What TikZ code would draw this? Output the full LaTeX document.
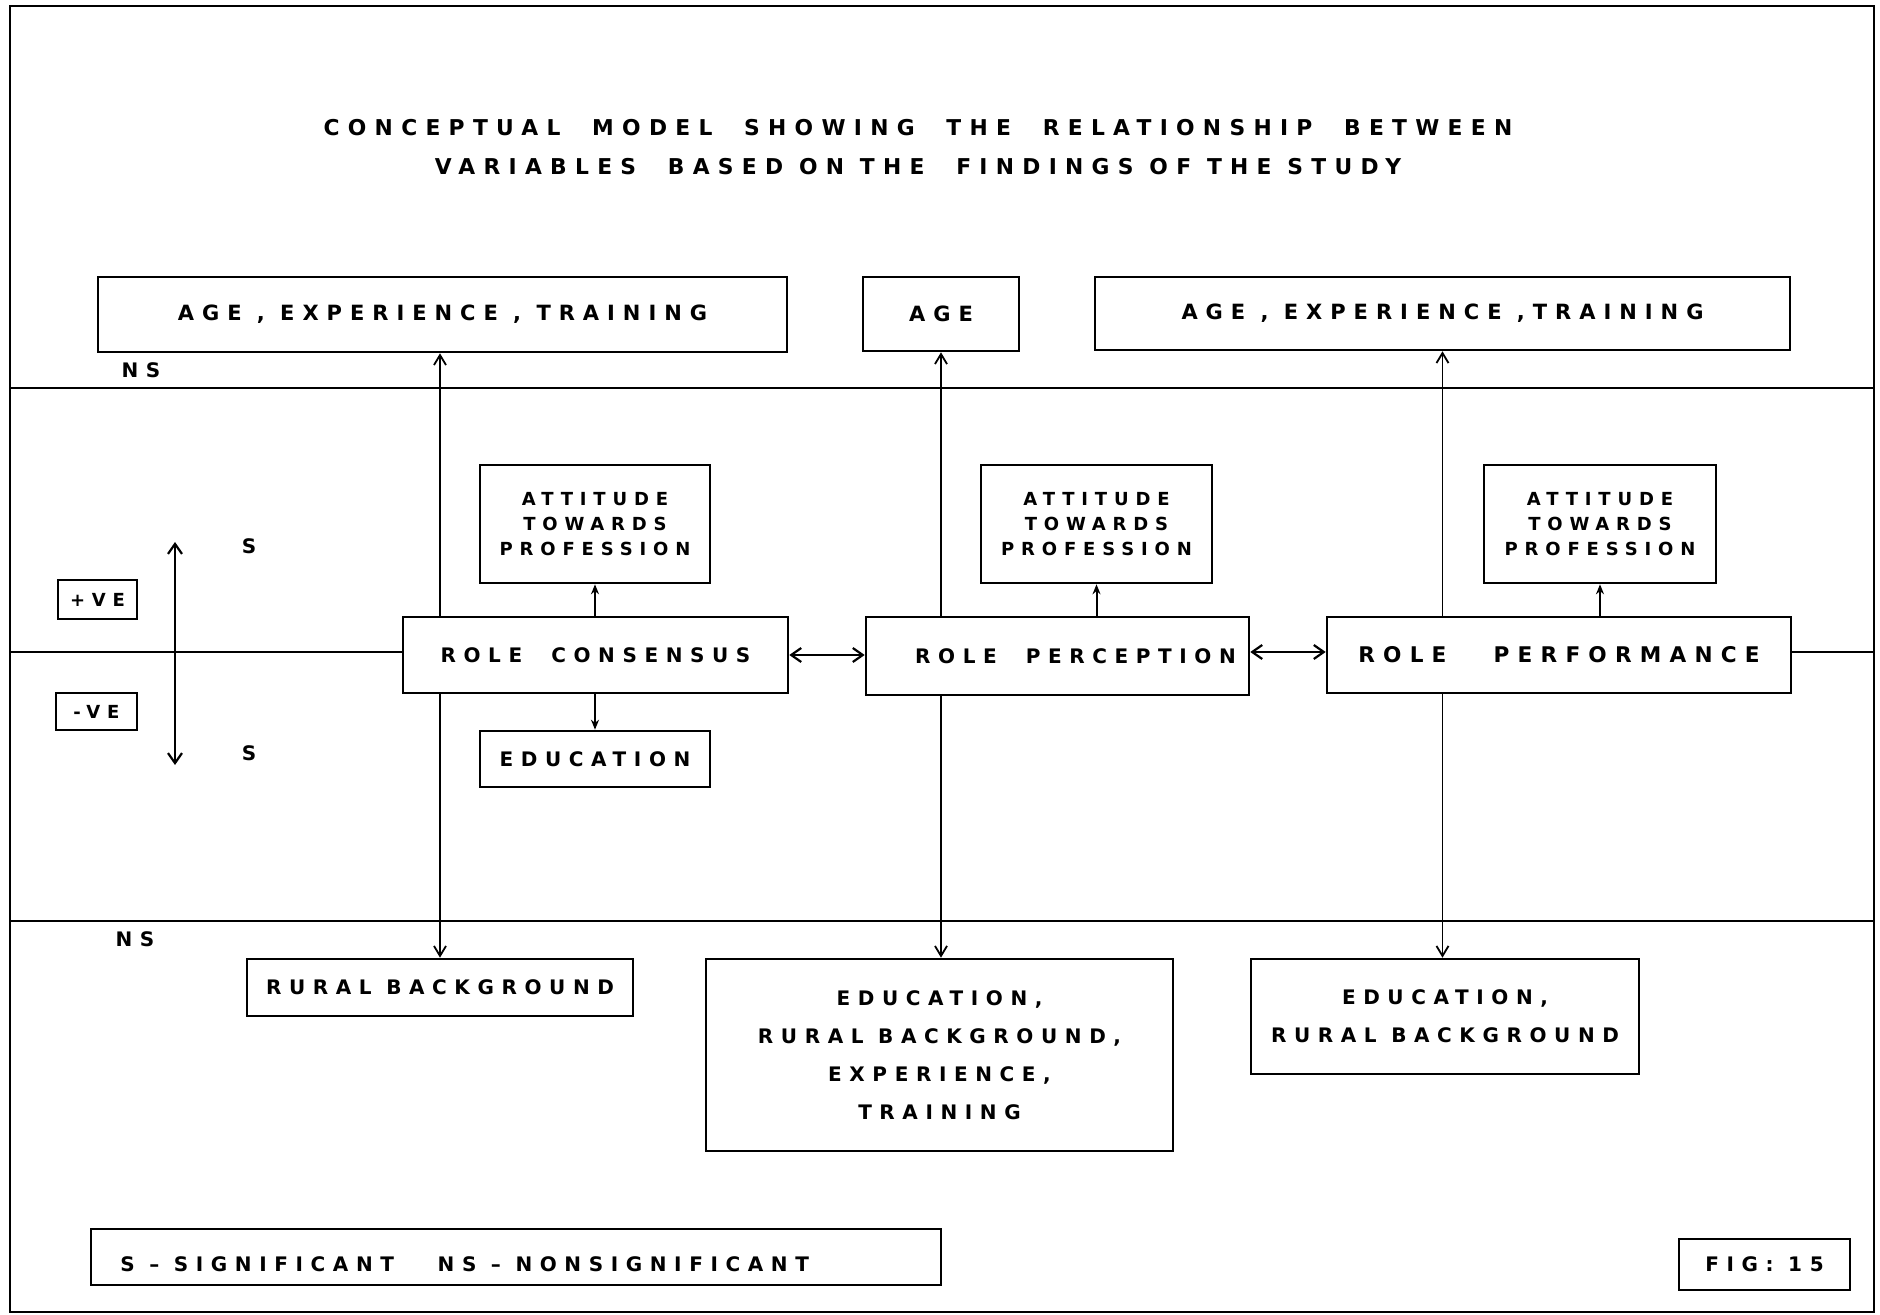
\documentclass[tikz,border=0pt]{standalone}
\usepackage{fontspec}
\newfontfamily\hf[LetterSpace=38]{DejaVu Sans Bold}
\usetikzlibrary{arrows.meta}
\begin{document}
\begin{tikzpicture}[x=0.5pt,y=-0.5pt,
  txt/.style={font=\hf\fontsize{10}{12}\selectfont},
  box/.style={draw, line width=1.3pt, inner sep=0pt, align=center, txt},
  lab/.style={inner sep=0pt, align=center, txt},
  rule/.style={line width=1.1pt},
  con/.style={line width=0.9pt},
  lng/.style={con, -{Straight Barb[length=5pt,width=6pt]}},
  sht/.style={line width=1pt, -{Stealth[length=5pt,width=4pt]}},
  dbl/.style={line width=1.1pt, {Straight Barb[length=5pt,width=7pt]}-{Straight Barb[length=5pt,width=7pt]}},
]
\useasboundingbox (0,0) rectangle (1880,1315);
% frame
\coordinate (fl) at (10,652);
\coordinate (fr) at (1874,652);
\draw[line width=1.2pt] (10,6) rectangle (1874,1312);
\draw[rule] (10,388) -- (1874,388);
\draw[rule] (10,921) -- (1874,921);

% title
\node[lab, font=\hf\fontsize{10.9}{19.5}\selectfont] (title) at (918,147.5)
  {CONCEPTUAL\ \ MODEL\ \ SHOWING\ \ THE\ \ RELATIONSHIP\ \ BETWEEN\\VARIABLES\ \ BASED\ ON\ THE\ \ FINDINGS\ OF\ THE\ STUDY};

% top boxes
\node[box, minimum width=344.5pt, minimum height=37.5pt, font=\hf\fontsize{10.5}{12}\selectfont] (a1) at (442.5,314.5) {AGE\ ,\ EXPERIENCE\ ,\ TRAINING};
\node[box, minimum width=78pt, minimum height=37pt, font=\hf\fontsize{10.5}{12}\selectfont] (a2) at (941,314) {AGE};
\node[box, minimum width=347.5pt, minimum height=36.5pt, font=\hf\fontsize{10.5}{12}\selectfont] (a3) at (1442.5,313.5) {AGE\ ,\ EXPERIENCE\ ,TRAINING};
\node[lab] (ns1) at (141,370) {NS};

% attitude boxes
\node[box, minimum width=115pt, minimum height=59pt, font=\hf\fontsize{9}{12.5}\selectfont] (t1) at (595,524) {ATTITUDE\\TOWARDS\\PROFESSION};
\node[box, minimum width=115.5pt, minimum height=59pt, font=\hf\fontsize{9}{12.5}\selectfont] (t2) at (1096.5,524) {ATTITUDE\\TOWARDS\\PROFESSION};
\node[box, minimum width=116pt, minimum height=59pt, font=\hf\fontsize{9}{12.5}\selectfont] (t3) at (1600,524) {ATTITUDE\\TOWARDS\\PROFESSION};

% role boxes
\node[box, minimum width=192.5pt, minimum height=38pt] (rc) at (595.5,655) {ROLE\ \ CONSENSUS};
\node[box, minimum width=191.5pt, minimum height=39pt] (rpe) at (1057.5,656) {\hspace*{18pt}ROLE\ \ PERCEPTION};
\node[box, minimum width=232pt, minimum height=38pt, font=\hf\fontsize{10.8}{12}\selectfont] (rpf) at (1559,655) {ROLE\ \ \ PERFORMANCE};
\node[box, minimum width=115pt, minimum height=28pt] (edu) at (595,759) {EDUCATION};

% left legend
\node[box, minimum width=39.5pt, minimum height=19.5pt, font=\hf\fontsize{9}{11}\selectfont] (pve) at (97.5,599.5) {+VE};
\node[box, minimum width=40.5pt, minimum height=18.5pt, font=\hf\fontsize{9}{11}\selectfont] (nve) at (96.5,711.5) {-VE};
\coordinate (au) at (175,542);
\coordinate (ad) at (175,765);
\node[lab] (s1) at (249,546) {S};
\node[lab] (s2) at (249,753) {S};
\node[lab] (ns2) at (135,939) {NS};

% bottom boxes
\node[box, minimum width=193pt, minimum height=28.5pt] (rb) at (440,987.5) {RURAL\ BACKGROUND};
\node[box, minimum width=233.5pt, minimum height=96pt, font=\hf\fontsize{10}{19}\selectfont] (e4) at (939.5,1055) {EDUCATION,\\RURAL\ BACKGROUND,\\EXPERIENCE,\\TRAINING};
\node[box, minimum width=194pt, minimum height=57.5pt, font=\hf\fontsize{10}{19}\selectfont] (e2) at (1445,1016.5) {EDUCATION,\\RURAL\ BACKGROUND};

% legend and figure number
\node[box, minimum width=425pt, minimum height=28pt] (leg) at (516,1257) {};
\node[lab, anchor=west, font=\hf\fontsize{10}{12}\selectfont] (legt) at (120,1264) {S\ –\ SIGNIFICANT\ \ \ NS\ –\ NONSIGNIFICANT};
\node[box, minimum width=85.5pt, minimum height=25.5pt, font=\hf\fontsize{10}{12}\selectfont] (fig) at (1764.5,1264.5) {FIG:\ 15};

% bands
\draw[rule] (fl) -- (rc.west |- fl);
\draw[rule] (rpf.east |- fr) -- (fr);
\draw[dbl] (au) -- (ad);

% connectors
\draw[lng] (rb.center |- rc.north) -- (rb.center |- a1.south);
\draw[lng] (rb.center |- rc.south) -- (rb.north);
\draw[lng] (a2.center |- rpe.north) -- (a2.south);
\draw[lng] (a2.center |- rpe.south) -- (a2.center |- e4.north);
\draw[lng] (a3.center |- rpf.north) -- (a3.south);
\draw[lng] (a3.center |- rpf.south) -- (a3.center |- e2.north);
\draw[sht] (t1.south |- rc.north) -- (t1.south);
\draw[sht] (t1.south |- rc.south) -- (edu.north);
\draw[sht] (t2.south |- rpe.north) -- (t2.south);
\draw[sht] (t3.south |- rpf.north) -- (t3.south);
\draw[dbl] (rc.east) -- (rpe.west |- rc.east);
\draw[dbl] (rpe.east |- fr) -- (rpf.west |- fr);
\end{tikzpicture}
\end{document}
